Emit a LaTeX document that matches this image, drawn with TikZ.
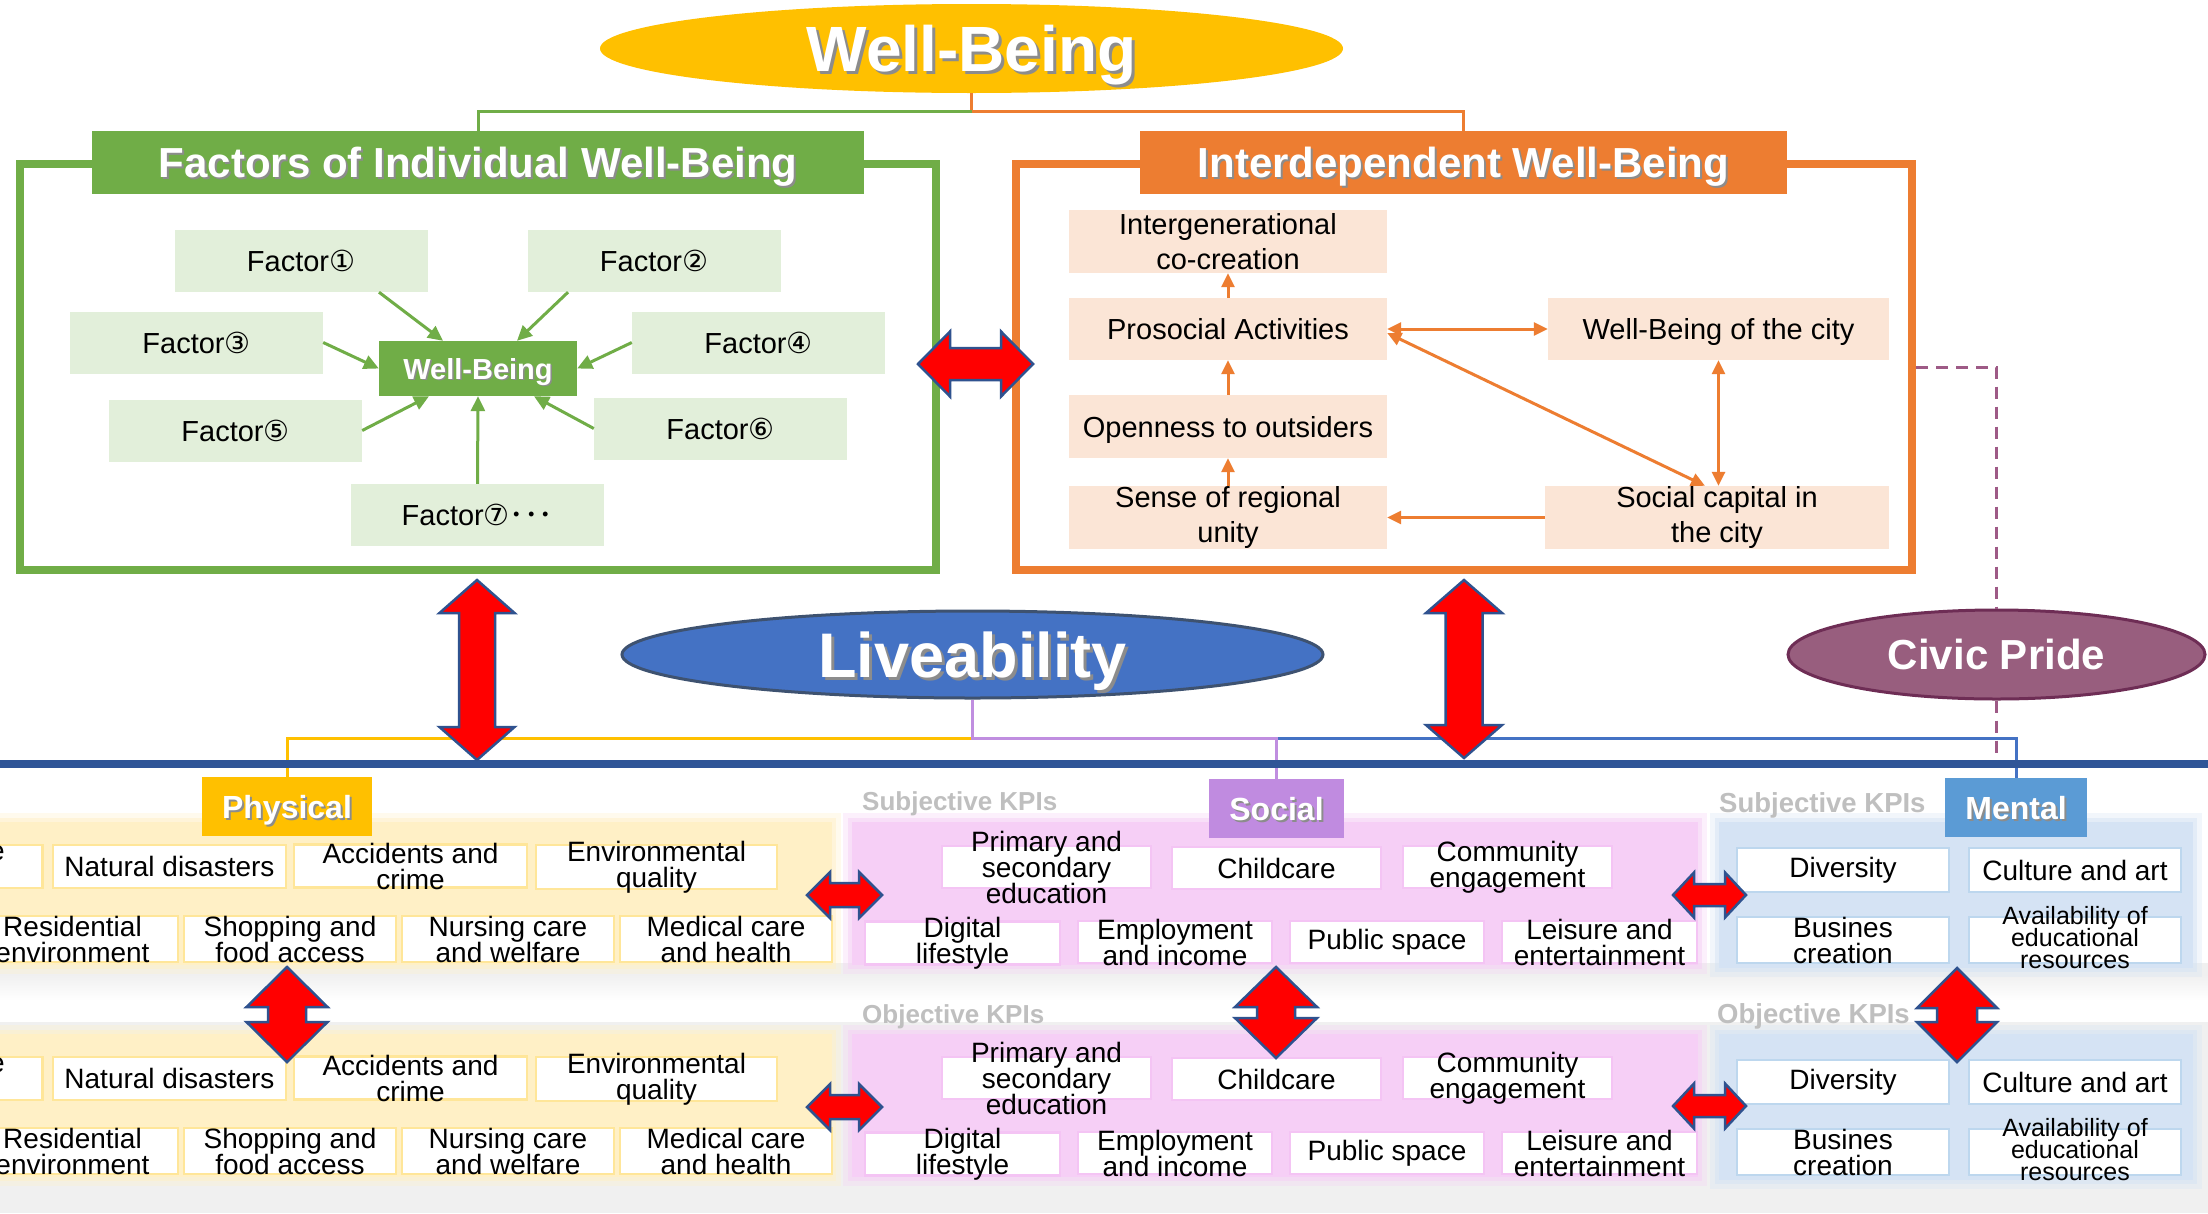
\documentclass[tikz,border=0pt]{standalone}
\usepackage{fontspec}
\setmainfont{Liberation Sans}
\newfontfamily\dv{DejaVu Sans}
\newfontfamily\cjk{Noto Sans CJK JP}
\usetikzlibrary{shapes.geometric,arrows.meta,calc}
\definecolor{wbgold}{HTML}{FFC000}
\definecolor{grn}{HTML}{70AD47}
\definecolor{lgrn}{HTML}{E2EFDA}
\definecolor{org}{HTML}{ED7D31}
\definecolor{peach}{HTML}{FBE5D6}
\definecolor{livblue}{HTML}{4472C4}
\definecolor{livedge}{HTML}{3E5270}
\definecolor{civic}{HTML}{985E7E}
\definecolor{civicedge}{HTML}{6E2D55}
\definecolor{dashc}{HTML}{9E5A86}
\definecolor{navy}{HTML}{2F5597}
\definecolor{arrowedge}{HTML}{2F528F}
\definecolor{socialc}{HTML}{C08BE0}
\definecolor{mentalc}{HTML}{5B9BD5}
\definecolor{ypanel}{HTML}{FFF0C6}
\definecolor{ppanel}{HTML}{F6CFF6}
\definecolor{bpanel}{HTML}{D5E3F4}
\definecolor{yedge}{HTML}{FFE699}
\definecolor{pedge}{HTML}{F4C4F4}
\definecolor{bedge}{HTML}{BDD7EE}
\definecolor{kpigrey}{HTML}{BFBFBF}
\definecolor{bgg}{HTML}{F0F0F0}
\definecolor{livpurple}{HTML}{C08EE0}
\newcommand\tightls{\lineskiplimit=-50pt\lineskip=0pt\relax}
\newcommand\kptext{\fontsize{28}{26}\selectfont\tightls}
\newcommand\avtext{\fontsize{25}{22}\selectfont\tightls}
\newcommand\shd[2]{\rlap{\kern#1\raisebox{-#1}{\textcolor{black!45}{#2}}}#2}
\newcommand\kbox[7]{\node[kb=#6, minimum width=#4pt, minimum height=#5pt] (#1) at (#2,#3) {};
  \node[kt] at (#1.center) {#7};}
\newcommand\softpanel[5]{%
  \fill[#5, opacity=0.3] ({#1-9},{#2-9}) rectangle ({#3+9},{#4+9});
  \fill[#5, opacity=0.5] ({#1-4},{#2-4}) rectangle ({#3+4},{#4+4});
  \fill[#5] (#1,#2) rectangle (#3,#4);}
% horizontal double block arrow: left tip x, right tip x, cy, head length, head width, shaft width
\newcommand\dblH[6]{\filldraw[bigarrow] (#1,#3) -- ({#1+#4},{#3-#5/2}) -- ({#1+#4},{#3-#6/2}) -- ({#2-#4},{#3-#6/2}) -- ({#2-#4},{#3-#5/2}) -- (#2,#3) -- ({#2-#4},{#3+#5/2}) -- ({#2-#4},{#3+#6/2}) -- ({#1+#4},{#3+#6/2}) -- ({#1+#4},{#3+#5/2}) -- cycle;}
% vertical double block arrow: top tip y, bottom tip y, cx, head length, head width, shaft width
\newcommand\dblV[6]{\filldraw[bigarrow] (#3,#1) -- ({#3+#5/2},{#1+#4}) -- ({#3+#6/2},{#1+#4}) -- ({#3+#6/2},{#2-#4}) -- ({#3+#5/2},{#2-#4}) -- (#3,#2) -- ({#3-#5/2},{#2-#4}) -- ({#3-#6/2},{#2-#4}) -- ({#3-#6/2},{#1+#4}) -- ({#3-#5/2},{#1+#4}) -- cycle;}
\newcommand\physgroup[2]{%
\begin{scope}[yshift=-#1pt]
  \node[kb=yedge, minimum width=233pt, minimum height=43pt] (pe#2) at (-74,866.5) {};
  \node[kt, anchor=base east] at (5,860) {e};
  \kbox{nd#2}{169.5}{866.5}{233}{43}{yedge}{Natural disasters}
  \kbox{ac#2}{410.5}{866}{233}{43}{yedge}{Accidents and\\crime}
  \kbox{eq#2}{656.5}{867}{241}{44}{yedge}{Environmental\\quality}
  \kbox{re#2}{72.5}{939}{211}{46}{yedge}{Residential\\environment}
  \kbox{sh#2}{290}{939}{212}{46}{yedge}{Shopping and\\food access}
  \kbox{nc#2}{508}{939}{212}{46}{yedge}{Nursing care\\and welfare}
  \kbox{mc#2}{726}{939}{212}{46}{yedge}{Medical care\\and health}
\end{scope}}
\newcommand\socgroup[2]{%
\begin{scope}[yshift=-#1pt]
  \kbox{pr#2}{1046.5}{867}{209}{42}{pedge}{Primary and\\secondary\\education}
  \kbox{cc#2}{1276.5}{868}{209}{42}{pedge}{Childcare}
  \kbox{ce#2}{1507.5}{867}{209}{42}{pedge}{Community\\engagement}
  \kbox{dl#2}{962.5}{943}{195}{43}{pedge}{Digital\\lifestyle}
  \kbox{ei#2}{1175}{942}{194}{42}{pedge}{Employment\\and income}
  \kbox{pu#2}{1387}{942}{194}{42}{pedge}{Public space}
  \kbox{le#2}{1599.5}{942}{195}{42}{pedge}{Leisure and\\entertainment}
\end{scope}}
\newcommand\mentgroup[2]{%
\begin{scope}[yshift=-#1pt]
  \kbox{dv#2}{1843}{870}{212}{44}{bedge}{Diversity}
  \kbox{ca#2}{2075}{870}{212}{44}{bedge}{Culture and art}
  \kbox{bc#2}{1843}{940}{212}{46}{bedge}{Busines\\creation}
  \node[kb=bedge, minimum width=212pt, minimum height=46pt] (av#2) at (2075,940) {};
  \node[kt, font=\avtext] at ([yshift=2pt]av#2.center) {Availability of\\educational\\resources};
\end{scope}}
\begin{document}
\begin{tikzpicture}[x=1pt,y=-1pt,
  gfac/.style={fill=lgrn, inner sep=0pt, minimum width=253pt, minimum height=62pt, text depth=0pt, font=\fontsize{29}{35}\selectfont},
  pbox/.style={fill=peach, inner sep=0pt, minimum height=63pt, font=\fontsize{29}{35}\selectfont, align=center},
  one/.style={text depth=0pt},
  ttl/.style={inner sep=0pt, minimum height=63pt, text depth=0pt, text=white, font=\bfseries\fontsize{42}{50}\selectfont},
  cat/.style={inner sep=0pt, minimum height=59pt, text depth=0pt, text=white, font=\bfseries\fontsize{32}{38}\selectfont},
  kb/.style={fill=white, draw=#1, line width=2.5pt, inner sep=0pt},
  kt/.style={font=\kptext, align=center, inner sep=0pt, text=black},
  kpil/.style={text=kpigrey, font=\bfseries\fontsize{26}{30}\selectfont, inner sep=0pt},
  garrow/.style={draw=grn, line width=3pt, -{Triangle[length=15pt,width=14pt]}},
  oarrow/.style={draw=org, line width=3pt, -{Triangle[length=14pt,width=13pt]}},
  odarrow/.style={draw=org, line width=3pt, {Triangle[length=14pt,width=13pt]}-{Triangle[length=14pt,width=13pt]}},
  bigarrow/.style={fill=red, draw=arrowedge, line width=2.5pt, line join=miter},
  thin/.style={line width=3pt},
]
\fill[white] (0,0) rectangle (2208,1213);
\clip (0,0) rectangle (2208,1213);

% ---------- lower background and panels ----------
\fill[bgg] (0,963) rectangle (2208,1213);
\shade[top color=bgg, bottom color=white] (0,975) rectangle (2208,1000);
\fill[white] (0,1000) rectangle (2208,1022);
\softpanel{-20}{822}{832}{965}{ypanel}
\softpanel{-20}{1034}{832}{1177}{ypanel}
\softpanel{852}{822}{1698}{965}{ppanel}
\softpanel{852}{1034}{1698}{1177}{ppanel}
\softpanel{1719}{822}{2193}{968}{bpanel}
\softpanel{1719}{1034}{2193}{1180}{bpanel}

% ---------- top: Well-Being ----------
\node[ellipse, fill=wbgold, minimum width=743pt, minimum height=89pt, inner sep=0pt, text depth=0pt, text=white,
  font=\bfseries\fontsize{64}{70}\selectfont] (wbell) at (971.5,48.5) {\shd{3pt}{Well-Being}};

\node[draw=grn, line width=8pt, minimum width=916pt, minimum height=406pt, inner sep=0pt] (gbox) at (478,367) {};
\node[draw=org, line width=8pt, minimum width=896pt, minimum height=406pt, inner sep=0pt] (obox) at (1464,367) {};
\node[ttl, fill=grn, minimum width=772pt] (gtitle) at (478,162.5) {\shd{2pt}{Factors of Individual Well-Being}};
\node[ttl, fill=org, minimum width=647pt] (otitle) at (1463.5,162.5) {\shd{2pt}{Interdependent Well-Being}};

\coordinate (wbj) at (971.5,111);
\draw[org, thin] (wbell.south) -- (wbj) -| (otitle.north);
\draw[grn, thin] (wbj) -| (gtitle.north);

% factors
\node[gfac] (f1) at (301,261) {Factor{\dv ①}};
\node[gfac] (f2) at (654,261) {Factor{\dv ②}};
\node[gfac] (f3) at (196.5,342.5) {Factor{\dv ③}};
\node[gfac] (f4) at (758.5,342.5) {Factor{\dv ④}};
\node[gfac] (f5) at (235.5,430.5) {Factor{\dv ⑤}};
\node[gfac] (f6) at (720.5,428.5) {Factor{\dv ⑥}};
\node[gfac] (f7) at (477.5,515) {Factor{\dv ⑦}{\cjk ･･･}};
\node[fill=grn, inner sep=0pt, minimum width=198pt, minimum height=55pt, text depth=0pt, text=white,
  font=\bfseries\fontsize{29}{35}\selectfont] (wbc) at (478,368.5) {\shd{1.5pt}{Well-Being}};
\draw[garrow] ([xshift=78pt]f1.south) -- ([xshift=-35pt]wbc.north);
\draw[garrow] ([xshift=-86pt]f2.south) -- ([xshift=39pt]wbc.north);
\draw[garrow] (f3.east) -- (wbc.west);
\draw[garrow] (f4.west) -- (wbc.east);
\draw[garrow] (f5.east) -- ([xshift=-49pt]wbc.south);
\draw[garrow] (f6.west) -- ([xshift=56pt]wbc.south);
\draw[garrow] (f7.north) -- (wbc.south);

% interdependent
\node[pbox, minimum width=318pt] (ig) at (1228,241.5) {Intergenerational\\co-creation};
\node[pbox, one, minimum width=318pt, minimum height=62pt] (ps) at (1228,329) {Prosocial Activities};
\node[pbox, one, minimum width=318pt] (op) at (1228,426.5) {Openness to outsiders};
\node[pbox, minimum width=318pt] (sr) at (1228,517.5) {Sense of regional\\unity};
\node[pbox, one, minimum width=341pt, minimum height=62pt] (wc) at (1718.5,329) {Well-Being of the city};
\node[pbox, minimum width=344pt] (sc) at (1717,517.5) {Social capital in\\the city};
\draw[oarrow] (ps.north) -- (ig.south);
\draw[oarrow] (op.north) -- (ps.south);
\draw[oarrow] (sr.north) -- (op.south);
\draw[odarrow] (ps.east) -- (wc.west);
\draw[odarrow] ([yshift=-4pt]ps.east) -- ([xshift=-12pt]sc.north);
\draw[odarrow] (wc.south) -- (wc.south |- sc.north);
\draw[oarrow] (sc.west) -- (sr.east);

% ---------- Liveability and Civic Pride ----------
\node[ellipse, fill=livblue, draw=livedge, line width=3pt, minimum width=701pt, minimum height=87pt, inner sep=0pt,
  text depth=0pt, text=white, font=\bfseries\fontsize{63}{70}\selectfont] (liv) at (972.5,654.5) {\shd{3pt}{Liveability}};
\node[ellipse, fill=civic, draw=civicedge, line width=3pt, minimum width=417pt, minimum height=89pt, inner sep=0pt,
  text depth=0pt, text=white, font=\bfseries\fontsize{42}{50}\selectfont] (civ) at (1996.5,654.5) {Civic Pride};
\coordinate (hl) at (0,764);
\draw[dashc, line width=3pt, dash pattern=on 12pt off 8pt] (obox.east) -| (civ.north);
\draw[dashc, line width=3pt, dash pattern=on 12pt off 8pt] (civ.south) -- (civ.south |- hl);

\node[cat, fill=wbgold, minimum width=170pt] (phys) at (287,806.5) {\shd{2pt}{Physical}};
\node[cat, fill=socialc, minimum width=135pt] (soc) at (1276.5,808.5) {\shd{2pt}{Social}};
\node[cat, fill=mentalc, minimum width=142pt] (ment) at (2016,807.5) {\shd{2pt}{Mental}};

\coordinate (lvj) at (972.5,738);
\draw[livblue, thin] (lvj) -| (ment.north);
\draw[wbgold, thin] (lvj) -| (phys.north);
\draw[livpurple, thin] (liv.south) -- (lvj) -| (soc.north);
\draw[navy, line width=8pt] (hl) -- (2208,764);

% KPI labels
\node[kpil, anchor=base west] (sk1) at (862,810) {Subjective KPIs};
\node[kpil, anchor=base west] (ok1) at (862,1023) {Objective KPIs};
\node[kpil, anchor=base west, font=\bfseries\fontsize{27.5}{30}\selectfont] (sk2) at (1719,812) {Subjective KPIs};
\node[kpil, anchor=base west, font=\bfseries\fontsize{27.5}{30}\selectfont] (ok2) at (1717,1023) {Objective KPIs};

% KPI boxes
\physgroup{0}{a}
\physgroup{212}{b}
\socgroup{0}{a}
\socgroup{211}{b}
\mentgroup{0}{a}
\mentgroup{212}{b}

% ---------- red block arrows ----------
\dblH{918}{1033}{364}{32}{65}{32}
\dblV{580}{760}{477}{33}{75}{36}
\dblV{580}{758}{1464}{33}{76}{37}
\dblH{807}{882}{895}{23}{46}{24}
\dblH{807}{882}{1107}{23}{46}{24}
\dblH{1673}{1746}{895}{21}{45}{22}
\dblH{1673}{1746}{1106}{21}{45}{22}
\dblV{967}{1062}{287}{40}{81}{38}
\dblV{967}{1058}{1276}{40}{82}{38}
\dblV{968}{1062}{1957}{40}{80}{40}
\end{tikzpicture}
\end{document}
